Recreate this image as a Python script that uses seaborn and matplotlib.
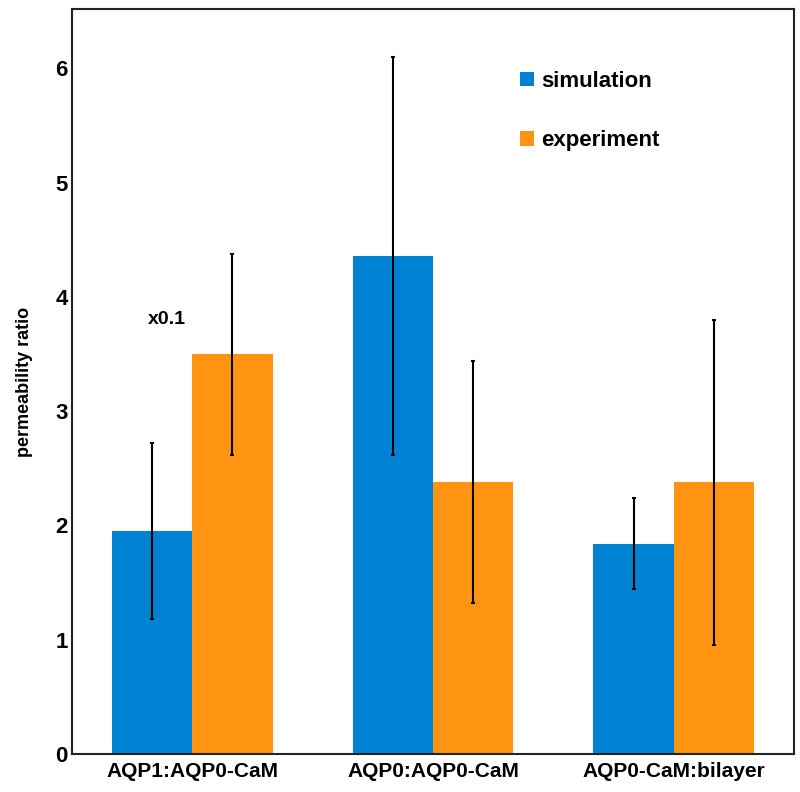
import matplotlib
matplotlib.use("Agg")
import matplotlib.pyplot as plt
import seaborn as sns
import pandas as pd

categories = ["AQP1:AQP0-CaM", "AQP0:AQP0-CaM", "AQP0-CaM:bilayer"]
series = ["simulation", "experiment"]
sim_values = [1.95, 4.36, 1.84]
exp_values = [3.50, 2.38, 2.38]
sim_low = [1.18, 2.62, 1.44]
sim_high = [2.72, 6.10, 2.24]
exp_low = [2.62, 1.32, 0.95]
exp_high = [4.38, 3.44, 3.80]

colors = ["#0082D2", "#FF9412"]

df = pd.DataFrame({
    "category": categories * 2,
    "series": [series[0]] * 3 + [series[1]] * 3,
    "value": sim_values + exp_values,
})

sns.set_style("white")
plt.rcParams["font.family"] = ["Liberation Sans", "DejaVu Sans"]
plt.rcParams["font.weight"] = "bold"
plt.rcParams["text.color"] = "black"
plt.rcParams["axes.labelcolor"] = "black"
plt.rcParams["xtick.color"] = "black"
plt.rcParams["ytick.color"] = "black"

fig = plt.figure(figsize=(8, 7.92), dpi=100)
ax = fig.add_axes([0.09, 0.048, 0.9025, 0.9406])

sns.barplot(data=df, x="category", y="value", hue="series", order=categories,
            hue_order=series, palette=colors, width=0.667, saturation=1,
            errorbar=None, ax=ax, linewidth=0)

lows = [sim_low, exp_low]
highs = [sim_high, exp_high]
vals = [sim_values, exp_values]
bar_containers = list(ax.containers)[:2]
for i, cont in enumerate(bar_containers):
    for j, bar in enumerate(cont.patches):
        xc = bar.get_x() + bar.get_width() / 2
        v = vals[i][j]
        ax.errorbar(xc, v, yerr=[[v - lows[i][j]], [highs[i][j] - v]],
                    fmt="none", ecolor="black", elinewidth=1.5, capsize=1.6,
                    capthick=1.5, zorder=5)

ax.set_xlim(-0.5, 2.5)
ax.set_ylim(0, 6.52)
ax.set_yticks([0, 1, 2, 3, 4, 5, 6])
ax.set_yticklabels(["0", "1", "2", "3", "4", "5", "6"], fontsize=16, fontweight="bold")
ax.set_xticks([0, 1, 2])
ax.set_xticklabels(categories, fontsize=15, fontweight="bold")
ax.set_xlabel("")
ax.set_ylabel("permeability ratio", fontsize=13, fontweight="bold", labelpad=16)
ax.tick_params(axis="y", length=0, pad=3)
ax.tick_params(axis="x", length=0, pad=6)

for s in ax.spines.values():
    s.set_visible(True)
    s.set_color("#222222")
    s.set_linewidth(1.5)

ax.text(-0.105, 3.8, "x0.1", fontsize=14, fontweight="bold", ha="center", va="center")

leg = ax.legend(loc="upper left", bbox_to_anchor=(0.5925, 0.944), frameon=False,
                handlelength=0.65, handleheight=0.65, handletextpad=0.3,
                labelspacing=1.72, prop={"size": 16, "weight": "bold"})

fig.savefig("out.png", dpi=100)
